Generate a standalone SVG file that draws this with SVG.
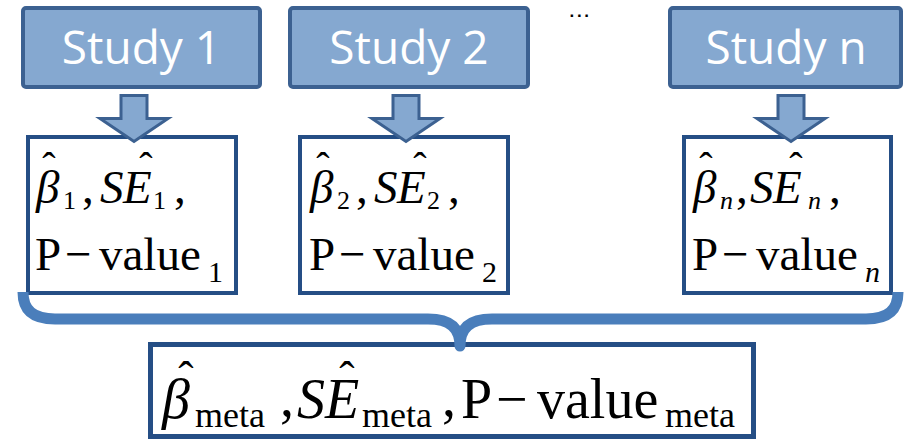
<svg xmlns="http://www.w3.org/2000/svg" width="904" height="441" viewBox="0 0 904 441">
  <style>
    .study rect { fill: #85A8D0; stroke: #3C6191; stroke-width: 4; }
    .study text { font-family: "Open Sans", "Liberation Sans", sans-serif; font-size: 46px; fill: #FFFFFF; text-anchor: middle; }
    .res rect { fill: #FFFFFF; stroke: #254E85; stroke-width: 4; }
    .m { font-family: "Liberation Serif", "Times New Roman", serif; fill: #000000; }
    .f { font-size: 47px; }
    .s { font-size: 26px; }
    .s2 { font-size: 30px; }
    .F { font-size: 56px; }
    .S { font-size: 36px; }
    .i { font-style: italic; }
    .hat { font-size: 40px; font-style: normal; }
    .hatL { font-size: 46px; font-style: normal; }
    .arrow { fill: #85A8D0; stroke: #3C6191; stroke-width: 3; stroke-linejoin: miter; }
    .brace { fill: none; stroke: #4A7EBB; stroke-width: 11; stroke-linejoin: round; stroke-linecap: butt; }
    .dots { font-family: "Liberation Sans", Arial, sans-serif; font-size: 17px; font-weight: bold; letter-spacing: 2.6px; fill: #000000; }
  </style>
  <defs>
    <!-- downward block arrow, origin at the middle of the top edge -->
    <path id="blockArrow" d="M -13 0 H 13 V 23 H 34 L 0 46 L -34 23 H -13 Z"/>
  </defs>

  <!-- source studies -->
  <g id="study1" class="study">
    <rect x="23" y="8" width="237" height="79" rx="3"/>
    <text x="141.5" y="64">Study 1</text>
  </g>
  <g id="study2" class="study">
    <rect x="290" y="8" width="238" height="79" rx="3"/>
    <text x="409" y="64">Study 2</text>
  </g>
  <g id="studyn" class="study">
    <rect x="670" y="8" width="231" height="79" rx="3"/>
    <text x="786" y="64">Study n</text>
  </g>
  <text class="dots" x="569.6" y="16.5">...</text>

  <!-- per-study estimates -->
  <g id="result1" class="res">
    <rect x="28" y="137" width="208" height="156"/>
    <text class="m f"><tspan class="i" x="36" y="203">β</tspan><tspan class="hat" x="42.3" y="180">ˆ</tspan><tspan class="s" x="63" y="209">1</tspan><tspan x="82" y="203">,</tspan><tspan class="i" x="100" y="203">S</tspan><tspan class="i" x="123" y="203">E</tspan><tspan class="hat" x="139.3" y="180">ˆ</tspan><tspan class="s" x="153" y="209">1</tspan><tspan x="174" y="203">,</tspan></text>
    <text class="m f"><tspan x="35" y="270">P</tspan><tspan x="65" y="270">−</tspan><tspan x="99" y="270">value</tspan><tspan class="s2" x="208" y="282">1</tspan></text>
  </g>
  <g id="result2" class="res">
    <rect x="300" y="137" width="208" height="156"/>
    <text class="m f"><tspan class="i" x="310" y="203">β</tspan><tspan class="hat" x="316.3" y="180">ˆ</tspan><tspan class="s" x="337" y="209">2</tspan><tspan x="356" y="203">,</tspan><tspan class="i" x="374" y="203">S</tspan><tspan class="i" x="397" y="203">E</tspan><tspan class="hat" x="413.3" y="180">ˆ</tspan><tspan class="s" x="427" y="209">2</tspan><tspan x="448" y="203">,</tspan></text>
    <text class="m f"><tspan x="309" y="270">P</tspan><tspan x="339" y="270">−</tspan><tspan x="373" y="270">value</tspan><tspan class="s2" x="482" y="282">2</tspan></text>
  </g>
  <g id="resultn" class="res">
    <rect x="684" y="137" width="207" height="156"/>
    <text class="m f"><tspan class="i" x="693" y="203">β</tspan><tspan class="hat" x="699.3" y="180">ˆ</tspan><tspan class="s i" x="720" y="209">n</tspan><tspan x="736" y="203">,</tspan><tspan class="i" x="750" y="203">S</tspan><tspan class="i" x="773" y="203">E</tspan><tspan class="hat" x="789.3" y="180">ˆ</tspan><tspan class="s i" x="808" y="209">n</tspan><tspan x="829" y="203">,</tspan></text>
    <text class="m f"><tspan x="692" y="270">P</tspan><tspan x="722" y="270">−</tspan><tspan x="756" y="270">value</tspan><tspan class="s2 i" x="865" y="282">n</tspan></text>
  </g>

  <!-- pooled estimate -->
  <g id="meta" class="res">
    <rect x="150.5" y="344.5" width="603" height="92" style="stroke-width:5"/>
    <text class="m F"><tspan class="i" x="162" y="418">β</tspan><tspan class="hatL" x="178.3" y="394">ˆ</tspan><tspan class="S" x="195" y="427">meta</tspan><tspan x="280" y="416">,</tspan><tspan class="i" x="297" y="418">S</tspan><tspan class="i" x="325" y="418">E</tspan><tspan class="hatL" x="339.3" y="394">ˆ</tspan><tspan class="S" x="362" y="427">meta</tspan><tspan x="442" y="416">,</tspan><tspan x="461" y="418">P</tspan><tspan x="496" y="418">−</tspan><tspan x="537" y="418">value</tspan><tspan class="S" x="665" y="427">meta</tspan></text>
  </g>

  <!-- connectors: block arrows and the gathering brace -->
  <g id="connectors">
    <use href="#blockArrow" class="arrow" transform="translate(134,95.5)"/>
    <use href="#blockArrow" class="arrow" transform="translate(406,95.5)"/>
    <use href="#blockArrow" class="arrow" transform="translate(791,95.5)"/>
    <path class="brace" d="M 23 292 C 23 310 33 319 55 319 H 428 C 450 319 460 328 460 346 C 460 328 470 319 492 319 H 866 C 888 319 898 310 898 292"/>
  </g>
</svg>
